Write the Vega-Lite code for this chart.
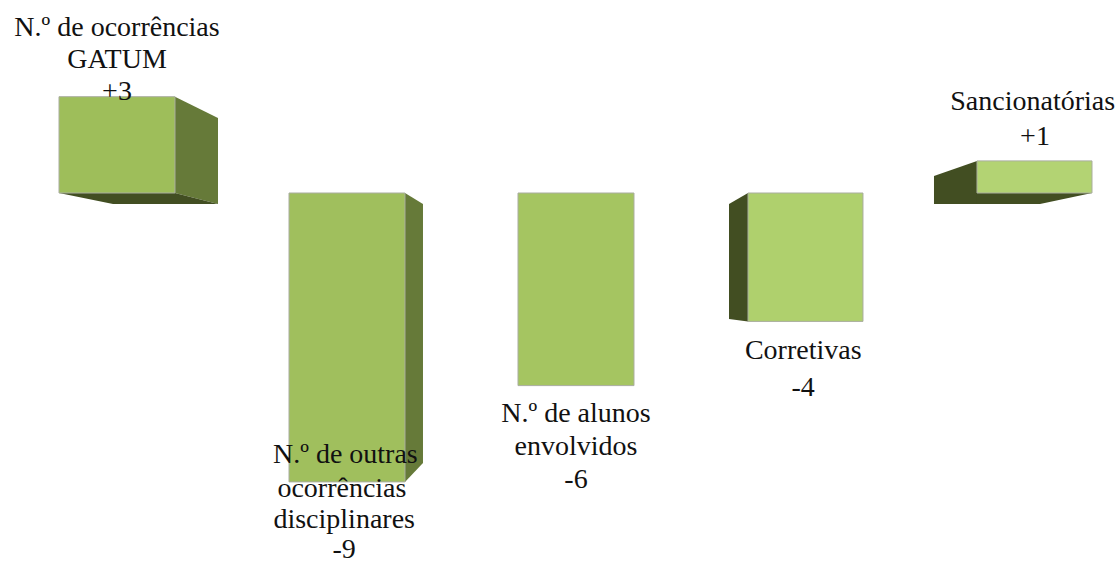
{
"$schema":"https://vega.github.io/schema/vega-lite/v6.json",
"autosize":{"type":"none"},
"padding":0,"width":1120,"height":566,
"background":"white",
"view":{"stroke":null},
"datasets":{
"bars":[
{"category":"N.º de ocorrências GATUM","left":-0.2527,"right":0.2527,"value":3},
{"category":"N.º de outras ocorrências disciplinares","left":0.7495,"right":1.2549,"value":-9},
{"category":"N.º de alunos envolvidos","left":1.7473,"right":2.2527,"value":-6},
{"category":"Corretivas","left":2.7495,"right":3.2505,"value":-4},
{"category":"Sancionatórias","left":3.7473,"right":4.2484,"value":1}
],
"faces":[
{"face":"a-side","shade":"side","pos":0.2527,"upper":3,"lower":0},
{"face":"a-side","shade":"side","pos":0.4401,"upper":2.336,"lower":-0.343},
{"face":"a-floor","shade":"dark","pos":-0.2527,"upper":0,"lower":0},
{"face":"a-floor","shade":"dark","pos":-0.0174,"upper":0,"lower":-0.343},
{"face":"a-floor","shade":"dark","pos":0.2527,"upper":0,"lower":-0.343},
{"face":"a-floor","shade":"dark","pos":0.4401,"upper":-0.343,"lower":-0.343},
{"face":"b-side","shade":"side","pos":1.2549,"upper":0,"lower":-9},
{"face":"b-side","shade":"side","pos":1.3333,"upper":-0.343,"lower":-8.41},
{"face":"d-side","shade":"dark","pos":2.6667,"upper":-0.343,"lower":-3.925},
{"face":"d-side","shade":"dark","pos":2.7495,"upper":0,"lower":-4},
{"face":"e-side","shade":"dark","pos":3.5599,"upper":0.53,"lower":-0.343},
{"face":"e-side","shade":"dark","pos":3.7473,"upper":1,"lower":-0.343},
{"face":"e-floor","shade":"dark","pos":3.7473,"upper":0,"lower":-0.343},
{"face":"e-floor","shade":"dark","pos":4.0218,"upper":0,"lower":-0.343},
{"face":"e-floor","shade":"dark","pos":4.2484,"upper":0,"lower":0}
],
"labels":[
{"line":"N.º de ocorrências","pos":0,"level":5.14},
{"line":"GATUM","pos":0,"level":4.14},
{"line":"+3","pos":0,"level":3.14},
{"line":"N.º de outras","pos":0.995,"level":-8.16},
{"line":"ocorrências","pos":0.98,"level":-9.22},
{"line":"disciplinares","pos":0.99,"level":-10.2},
{"line":"-9","pos":0.99,"level":-11.12},
{"line":"N.º de alunos","pos":2.0,"level":-6.88},
{"line":"envolvidos","pos":2.0,"level":-7.9},
{"line":"-6","pos":2.0,"level":-8.95},
{"line":"Corretivas","pos":2.99,"level":-4.92},
{"line":"-4","pos":2.99,"level":-6.07},
{"line":"Sancionatórias","pos":3.99,"level":2.83},
{"line":"+1","pos":4.0,"level":1.74}
]
},
"encoding":{},
"layer":[
{"data":{"name":"faces"},
 "mark":{"type":"area","interpolate":"linear","orient":"vertical"},
 "encoding":{
  "x":{"field":"pos","type":"quantitative","scale":{"domain":[-0.5098,4.3704],"nice":false,"zero":false},"axis":null},
  "y":{"field":"upper","type":"quantitative","scale":{"domain":[-11.62,6.0125],"nice":false,"zero":false},"axis":null},
  "y2":{"field":"lower"},
  "detail":{"field":"face"},
  "color":{"field":"shade","type":"nominal","scale":{"domain":["side","dark"],"range":["#667a39","#424e22"]},"legend":null}
 }},
{"data":{"name":"bars"},
 "mark":{"type":"rect","stroke":"#a9ad9f","strokeWidth":1},
 "encoding":{
  "x":{"field":"left","type":"quantitative","axis":null},
  "x2":{"field":"right"},
  "y":{"field":"value","type":"quantitative","axis":null},
  "y2":{"datum":0},
  "fill":{"field":"category","type":"nominal","sort":null,"scale":{"domain":["N.º de ocorrências GATUM","N.º de outras ocorrências disciplinares","N.º de alunos envolvidos","Corretivas","Sancionatórias"],"range":["#9ebe5a","#a0bf5d","#a5c561","#afd06d","#b3d373"]},"legend":null}
 }},
{"data":{"name":"labels"},
 "mark":{"type":"text","font":"Liberation Serif","fontSize":28,"color":"#111111","align":"center","baseline":"middle"},
 "encoding":{
  "x":{"field":"pos","type":"quantitative","axis":null},
  "y":{"field":"level","type":"quantitative","axis":null},
  "text":{"field":"line","type":"nominal"}
 }}
],
"resolve":{"scale":{"color":"independent"}}
}
